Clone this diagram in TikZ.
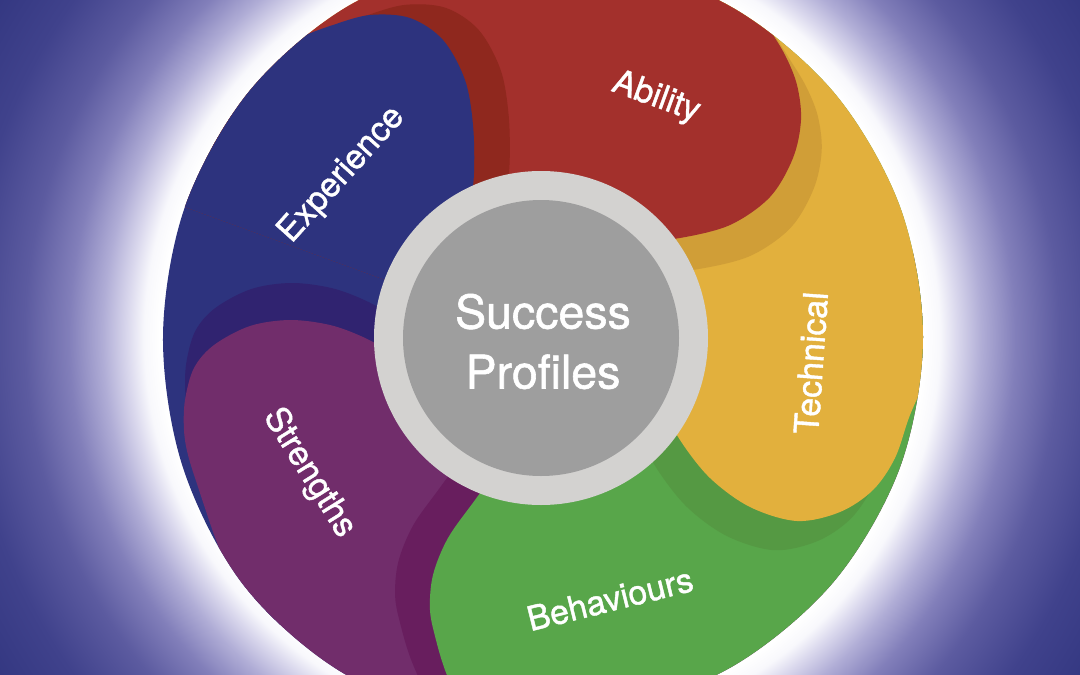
\documentclass[tikz,border=0pt]{standalone}
\usepackage{fontspec}
\setmainfont{TeX Gyre Heros}
\newfontfamily\lblfont{TeX Gyre Heros}[FakeBold=1.2]
\definecolor{bgblue}{RGB}{50,54,128}
\definecolor{glowA}{RGB}{248,248,252}
\definecolor{glowB}{RGB}{218,216,237}
\definecolor{glowC}{RGB}{176,173,214}
\definecolor{glowD}{RGB}{130,127,186}
\definecolor{glowE}{RGB}{92,91,160}
\definecolor{glowF}{RGB}{64,66,140}
\definecolor{cblue}{RGB}{45,51,126}
\definecolor{bluesh}{RGB}{143,40,30}
\definecolor{cred}{RGB}{163,48,44}
\definecolor{redsh}{RGB}{208,158,55}
\definecolor{cyellow}{RGB}{226,176,61}
\definecolor{yellowsh}{RGB}{85,153,67}
\definecolor{cgreen}{RGB}{88,166,74}
\definecolor{greensh}{RGB}{104,30,94}
\definecolor{cpurple}{RGB}{113,45,107}
\definecolor{purplesh}{RGB}{48,35,112}
\definecolor{ringgray}{RGB}{211,210,208}
\definecolor{coregray}{RGB}{158,158,158}
\pgfdeclareradialshading{glow}{\pgfpoint{0bp}{0bp}}{%
color(0bp)=(white); color(14.7bp)=(white); color(15.3bp)=(glowA);
color(15.95bp)=(glowB); color(16.9bp)=(glowC); color(18.2bp)=(glowD);
color(19.9bp)=(glowE); color(22.2bp)=(glowF); color(25bp)=(bgblue);
color(50bp)=(bgblue)}
\newcommand\petalRed[1]{\fill[#1] plot[smooth,tension=0.55] coordinates {(736,-25) (751,0) (768,27) (785,55) (797,85) (801,120) (793,158) (770,197) (730,225) (680,238) (640,241) (600,238)} -- (542,337) -- (152,112) -- (152,-150) -- (736,-150) -- cycle;}
\newcommand\petalYellow[1]{\fill[#1] plot[smooth,tension=0.55] coordinates {(950,320) (930,370) (910,415) (895,458) (873,490) (840,512) (797,521) (750,507) (710,478) (680,440) (662,405) (645,372)} -- (542,337) -- (542,-113) -- (1050,-113) -- (1050,320) -- cycle;}
\newcommand\petalGreen[1]{\fill[#1] plot[smooth,tension=0.55] coordinates {(478,740) (458,700) (445,670) (436,640) (430,610) (433,575) (448,538) (475,500) (500,465) (518,430)} -- (542,337) -- (985,259) -- (1050,259) -- (1050,800) -- (478,800) -- cycle;}
\newcommand\petalPurple[1]{\fill[#1] plot[smooth,tension=0.55] coordinates {(255,640) (237,592) (216,540) (199,490) (188,455) (184,430) (185,400) (194,368) (214,345) (250,326) (290,320) (330,325) (363,337) (392,353) (420,372)} -- (542,337) -- (620,780) -- (0,780) -- (0,640) -- cycle;}
\newcommand\petalBlue[1]{\fill[#1] plot[smooth,tension=0.55] coordinates {(170,150) (222,102) (273,58) (300,38) (333,25) (370,15) (410,18) (443,40) (465,80) (473,125) (474,173) (470,210) (465,250)} -- (542,337) -- (241,671) -- (-50,671) -- (-50,-100) -- (170,-100) -- cycle;}
\begin{document}
\begin{tikzpicture}[x=1pt,y=-1pt,
  lbl/.style={text=white,inner sep=0pt,font=\lblfont\fontsize{34}{40}\selectfont}]
\useasboundingbox (0,0) rectangle (1080,675);
\fill[bgblue] (0,0) rectangle (1080,675);
\begin{scope}
\clip (0,0) rectangle (1080,675);
\shade[shading=glow] (542,337) circle (650pt);
\begin{scope}
\clip plot[smooth cycle,tension=0.55] coordinates {(923,337) (900.1,207) (834.1,92.7) (733,7.9) (609,-37.2) (476.8,-38.2) (351,4.4) (249.6,90.8) (185,206.7) (163,337) (183.1,468) (245,587) (347.5,675.6) (476,717.1) (609.1,712.2) (733,666.1) (834.1,581.3) (900.1,467)};
\petalBlue{cblue}
\petalPurple{purplesh,shift={(1.3,-37)}}
\petalPurple{cpurple}
\petalGreen{greensh,shift={(-34.8,-12.7)}}
\petalGreen{cgreen}
\petalYellow{yellowsh,shift={(-22.8,29.2)}}
\petalYellow{cyellow}
\petalRed{redsh,shift={(20.7,30.7)}}
\petalRed{cred}
\begin{scope}
\clip (542,337) -- (671,-146) -- (455,-155) -- (221,-46) -- (72,166) -- cycle;
\petalBlue{bluesh,shift={(35.6,-10.2)}}
\petalBlue{cblue}
\end{scope}
\end{scope}
\end{scope}
\fill[ringgray] (541,338) circle (167pt);
\fill[coregray] (541,338) circle (138pt);
\node[text=white,align=center,inner sep=0pt,font=\lblfont\fontsize{46.5}{60}\selectfont] (sp) at (543,341.5) {Success\\Profiles};
\node[lbl,rotate=-20] (ability) at (656,98) {Ability};
\node[lbl,rotate=48] (experience) at (342,175) {Experience};
\node[lbl,rotate=86] (technical) at (811,363) {Technical};
\node[lbl,rotate=14] (behaviours) at (610,599) {Behaviours};
\node[lbl,rotate=-58] (strengths) at (309,473) {Strengths};
\end{tikzpicture}
\end{document}
